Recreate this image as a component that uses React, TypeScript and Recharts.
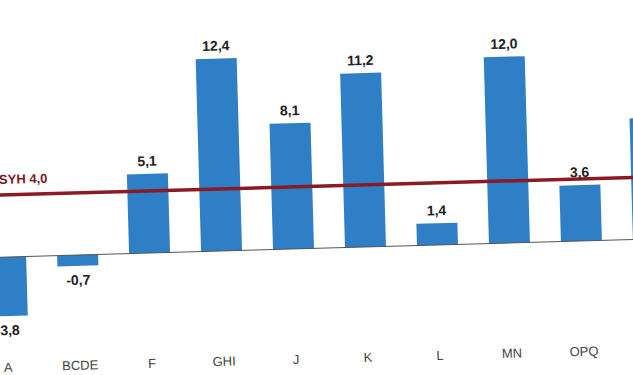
import { BarChart, Bar, XAxis, YAxis, ReferenceLine, LabelList } from 'recharts'

const categories = ['A', 'BCDE', 'F', 'GHI', 'J', 'K', 'L', 'MN', 'OPQ', 'R']
const values = [-3.8, -0.7, 5.1, 12.4, 8.1, 11.2, 1.4, 12.0, 3.6, 7.8]
const averageValue = 4.0
const averageName = 'SYH'

const fmt = (v: number) => v.toFixed(1).replace('.', ',')

const data = categories.map((name, i) => ({ name, value: values[i] }))

const renderValue = (p: any) => {
  const { x, y, width, height, value } = p
  const top = Math.min(y, y + height)
  const bottom = Math.max(y, y + height)
  const ly = value >= 0 ? top - 8 : bottom + 19
  return (
    <text
      x={x + width / 2}
      y={ly}
      textAnchor="middle"
      fontSize={14}
      fontWeight="bold"
      fill="#222"
      fontFamily="Liberation Sans, Arial, sans-serif"
    >
      {fmt(value)}
    </text>
  )
}

const renderAvgLabel = (p: any) => {
  const vb = p.viewBox || {}
  return (
    <text
      x={vb.x + 32}
      y={vb.y - 11}
      fontSize={13}
      fontWeight="bold"
      fill="#7a1a22"
      fontFamily="Liberation Sans, Arial, sans-serif"
    >
      {`${averageName} ${fmt(averageValue)}`}
    </text>
  )
}

export default function App() {
  return (
    <div
      style={{
        position: 'absolute',
        left: 0,
        top: 0,
        width: 633,
        height: 375,
        overflow: 'hidden',
        background: '#fff',
      }}
    >
      <div
        style={{
          position: 'absolute',
          left: -31,
          top: 0,
          transform: 'rotate(-1.6deg)',
          transformOrigin: '347px 248px',
        }}
      >
        <BarChart
          width={720}
          height={376}
          data={data}
          margin={{ top: 31, right: 0, bottom: 0, left: 0 }}
          barSize={41}
        >
          <XAxis
            dataKey="name"
            axisLine={false}
            tickLine={false}
            tickMargin={22}
            height={50}
            interval={0}
            tick={{ fontSize: 13, fill: '#444', fontFamily: 'Liberation Sans, Arial, sans-serif' }}
          />
          <YAxis hide domain={[-5, 14]} allowDataOverflow />
          <ReferenceLine y={0} stroke="#555" strokeWidth={1} />
          <Bar dataKey="value" fill="#2f7fc6" isAnimationActive={false}>
            <LabelList dataKey="value" content={renderValue} />
          </Bar>
          <ReferenceLine
            y={averageValue}
            stroke="#8b1a22"
            strokeWidth={3.5}
            label={renderAvgLabel}
          />
        </BarChart>
      </div>
    </div>
  )
}
